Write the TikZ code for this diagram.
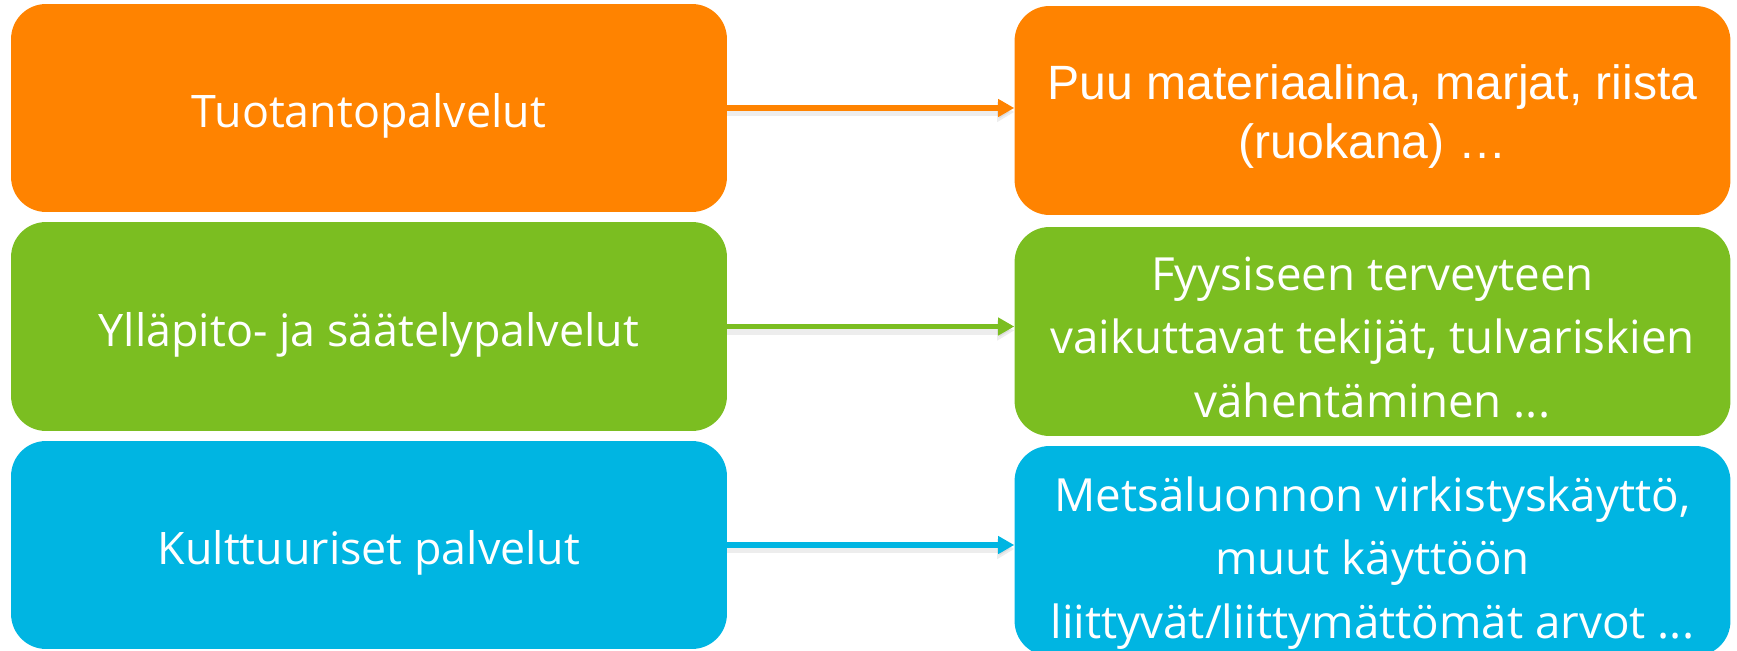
\documentclass[tikz,border=0pt]{standalone}
\usepackage{fontspec}
\setmainfont{Open Sans}
\newfontfamily\arialf{Liberation Sans}
\usetikzlibrary{arrows.meta}
\definecolor{cOrange}{RGB}{255,131,0}
\definecolor{cGreen}{RGB}{123,190,33}
\definecolor{cBlue}{RGB}{0,181,226}
\tikzset{
  box/.style={rounded corners=0.7cm, inner sep=0pt, minimum width=14.32cm},
  boxtext/.style={inner sep=0pt, text=white, align=center,
    font=\fontsize{25.5}{36}\selectfont},
  rtext/.style={boxtext, font=\fontsize{26}{36}\selectfont},
  link/.style={line width=0.11cm, -{Triangle[length=0.32cm,width=0.34cm]}},
  linkshadow/.style={line width=0.18cm, draw=black, opacity=0.07,
    -{Triangle[length=0.34cm,width=0.38cm]}}
}
\begin{document}
\begin{tikzpicture}[x=0.02cm,y=-0.02cm]
\useasboundingbox (0,0) rectangle (1737,651);
% left boxes
\node[box, fill=cOrange, minimum height=4.16cm] (L1) at (369,108) {};
\node[box, fill=cGreen, minimum height=4.18cm] (L2) at (369,326.5) {};
\node[box, fill=cBlue, minimum height=4.16cm] (L3) at (369,545) {};
% right boxes
\node[box, fill=cOrange, minimum height=4.18cm] (R1) at (1372.5,110.5) {};
\node[box, fill=cGreen, minimum height=4.18cm] (R2) at (1372.5,331.5) {};
\node[box, fill=cBlue, minimum height=4.2cm] (R3) at (1372.5,551) {};
% texts
\node[boxtext] (L1t) at ([yshift=-0.16cm]L1.center) {Tuotantopalvelut};
\node[boxtext] (L2t) at ([yshift=-0.16cm]L2.center) {Ylläpito- ja säätelypalvelut};
\node[boxtext] (L3t) at ([yshift=-0.16cm]L3.center) {Kulttuuriset palvelut};
\node[boxtext, font=\arialf\fontsize{27.4}{34}\selectfont] (R1t) at ([yshift=-0.12cm]R1.center) {Puu materiaalina, marjat, riista\\(ruokana) …};
\node[rtext] (R2t) at ([yshift=-0.12cm]R2.center) {Fyysiseen terveyteen\\vaikuttavat tekijät, tulvariskien\\vähentäminen ...};
\node[rtext] (R3t) at ([yshift=-0.24cm]R3.center) {Metsäluonnon virkistyskäyttö,\\muut käyttöön\\liittyvät/liittymättömät arvot ...};
% shadows
\draw[linkshadow] ([yshift=-0.08cm]L1.east) -- ([yshift=-0.08cm]L1.east -| R1.west);
\draw[linkshadow] ([yshift=-0.08cm]L2.east) -- ([yshift=-0.08cm]L2.east -| R2.west);
\draw[linkshadow] ([yshift=-0.08cm]L3.east) -- ([yshift=-0.08cm]L3.east -| R3.west);
% arrows
\draw[link, cOrange] (L1.east) -- (L1.east -| R1.west);
\draw[link, cGreen] (L2.east) -- (L2.east -| R2.west);
\draw[link, cBlue] (L3.east) -- (L3.east -| R3.west);
\end{tikzpicture}
\end{document}
